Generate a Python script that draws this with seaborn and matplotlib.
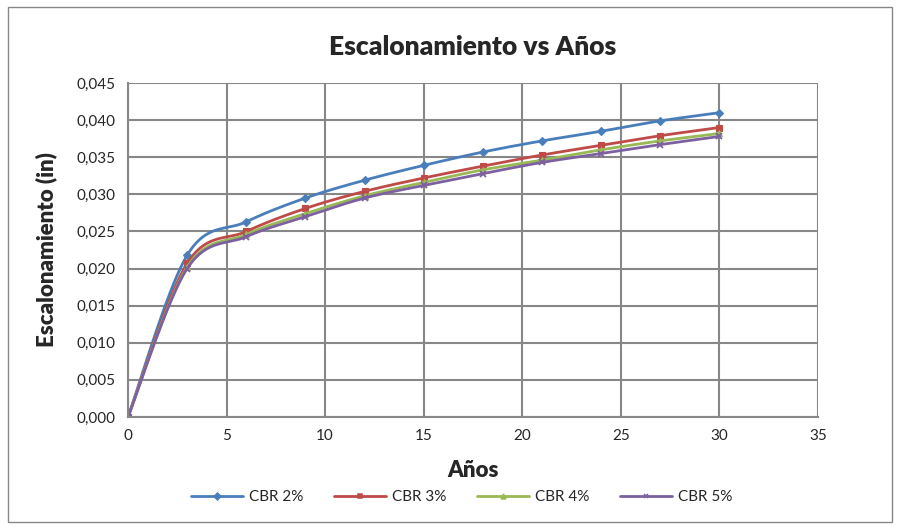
import numpy as np
import pandas as pd
import seaborn as sns
import matplotlib
matplotlib.use("Agg")
from matplotlib import pyplot as plt
from matplotlib.ticker import FuncFormatter, MultipleLocator
from matplotlib.patches import Rectangle

# datos
anios = [0, 3, 6, 9, 12, 15, 18, 21, 24, 27, 30]
cbr2 = [0.0, 0.0218, 0.0263, 0.0295, 0.0319, 0.0339, 0.0357, 0.0372, 0.0385, 0.0399, 0.0410]
cbr3 = [0.0, 0.0207, 0.0250, 0.0281, 0.0304, 0.0322, 0.0338, 0.0353, 0.0366, 0.0379, 0.0390]
cbr4 = [0.0, 0.0202, 0.0246, 0.0274, 0.0298, 0.0316, 0.0333, 0.0346, 0.0360, 0.0372, 0.0382]
cbr5 = [0.0, 0.0200, 0.0243, 0.0270, 0.0295, 0.0312, 0.0328, 0.0343, 0.0355, 0.0367, 0.0378]
series = ["CBR 2%", "CBR 3%", "CBR 4%", "CBR 5%"]
colores = ["#4A7EBB", "#BE4B48", "#98B954", "#7D60A0"]
marcadores = ["D", "s", "^", "x"]

df = pd.DataFrame({"Años": anios, "CBR 2%": cbr2, "CBR 3%": cbr3,
                   "CBR 4%": cbr4, "CBR 5%": cbr5})


# suavizado tipo excel (catmull-rom) solo para dibujar la curva
def suavizar(x, y, n=20):
    x = np.asarray(x, float)
    y = np.asarray(y, float)
    px = np.concatenate([[x[0]], x, [x[-1]]])
    py = np.concatenate([[y[0]], y, [y[-1]]])
    xs, ys = [], []
    t = np.linspace(0, 1, n)
    for i in range(1, len(px) - 2):
        p0, p1, p2, p3 = [np.array([px[j], py[j]]) for j in range(i - 1, i + 3)]
        c1 = p1 + (p2 - p0) / 6
        c2 = p2 - (p3 - p1) / 6
        pts = ((1 - t) ** 3)[:, None] * p1 + (3 * (1 - t) ** 2 * t)[:, None] * c1 \
            + (3 * (1 - t) * t ** 2)[:, None] * c2 + (t ** 3)[:, None] * p2
        xs.extend(pts[:, 0])
        ys.extend(pts[:, 1])
    return xs, ys


sns.set_style("white")
plt.rcParams["font.family"] = ["Lato", "DejaVu Sans"]

fig = plt.figure(figsize=(9, 5.29), dpi=100)
ax = fig.add_axes([128 / 900, 1 - 417 / 529, 690 / 900, 334 / 529])

for s, c, m in zip(series, colores, marcadores):
    xs, ys = suavizar(df["Años"], df[s])
    sns.lineplot(x=xs, y=ys, ax=ax, color=c, linewidth=2, sort=False, estimator=None)
    ax.plot(df["Años"], df[s], linestyle="none", marker=m, color=c,
            markersize=4.5 if m != "s" else 4, markeredgewidth=1.3 if m == "x" else 0.8)

# leyenda manual
handles = [plt.Line2D([], [], color=c, marker=m, markersize=3.5, linewidth=2, markeredgewidth=1.1)
           for c, m in zip(colores, marcadores)]
fig.legend(handles, series, loc="center", bbox_to_anchor=(462 / 900, 1 - 497 / 529), ncol=4,
           frameon=False, fontsize=11, handlelength=3.4, columnspacing=2.0, handletextpad=0.4)

ax.set_xlim(0, 35)
ax.set_ylim(0, 0.045)
ax.xaxis.set_major_locator(MultipleLocator(5))
ax.yaxis.set_major_locator(MultipleLocator(0.005))
ax.yaxis.set_major_formatter(FuncFormatter(lambda v, p: f"{v:.3f}".replace(".", ",")))
ax.grid(True, color="#878787", linewidth=1.5)
ax.set_axisbelow(True)
for sp in ["top", "right"]:
    ax.spines[sp].set_visible(False)
for sp in ["left", "bottom"]:
    ax.spines[sp].set_color("#878787")
    ax.spines[sp].set_linewidth(1.5)
ax.tick_params(axis="both", direction="out", length=5, width=1.5, color="#878787",
               labelsize=11, pad=4)

ax.set_xlabel("Años", fontsize=16, fontweight="heavy", labelpad=12)
ax.set_ylabel("Escalonamiento (in)", fontsize=16, fontweight="heavy", labelpad=14)
ax.set_title("Escalonamiento vs Años", fontsize=19, fontweight="heavy", pad=20)

fig.patches.append(Rectangle((8 / 900, 7 / 529), 884 / 900, 515 / 529, transform=fig.transFigure,
                             fill=False, edgecolor="#878787", linewidth=1))

fig.savefig("out.png", dpi=100)
